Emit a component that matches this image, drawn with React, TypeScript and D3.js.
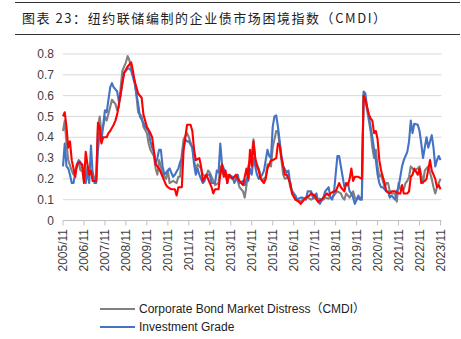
import React from "react";
import * as d3 from "d3";

// Month index counted from 2005/11 (0) to 2023/11 (216)
const tickLabels = ["2005/11","2006/11","2007/11","2008/11","2009/11","2010/11","2011/11","2012/11","2013/11","2014/11","2015/11","2016/11","2017/11","2018/11","2019/11","2020/11","2021/11","2022/11","2023/11"];
const yTicks = [0, 0.1, 0.2, 0.3, 0.4, 0.5, 0.6, 0.7, 0.8];

const cmdiSeries: [number, number][] = [
  [0,0.43],[1,0.48],[2,0.37],[3,0.29],[5,0.24],[6,0.22],[8,0.26],[9,0.28],[10,0.24],[11,0.24],[12,0.19],[14,0.26],[15,0.22],[17,0.23],[18,0.20],[19,0.20],
  [20,0.45],[21,0.50],[22,0.42],[23,0.45],[24,0.50],[25,0.48],[27,0.545],[28,0.58],[30,0.56],[31,0.53],[32,0.545],[33,0.64],[34,0.72],[36,0.76],[37,0.79],[38,0.77],[39,0.73],
  [41,0.67],[42,0.60],[43,0.52],[45,0.50],[46,0.45],[48,0.42],[49,0.37],[50,0.34],[52,0.31],[53,0.25],[54,0.22],[55,0.29],[56,0.26],[57,0.22],[59,0.20],[60,0.24],[61,0.18],
  [63,0.19],[65,0.18],[66,0.21],[67,0.21],[68,0.32],[69,0.39],[71,0.42],[72,0.40],[74,0.35],[75,0.29],[76,0.24],[77,0.27],[79,0.25],[80,0.22],[82,0.21],[83,0.24],[84,0.23],
  [86,0.19],[87,0.17],[89,0.18],[90,0.26],[91,0.23],[93,0.21],[94,0.22],[95,0.21],[97,0.20],[98,0.21],[100,0.19],[101,0.16],[103,0.14],[104,0.11],[105,0.17],[106,0.26],
  [108,0.32],[109,0.39],[110,0.29],[112,0.25],[113,0.22],[114,0.19],[116,0.21],[117,0.27],[119,0.26],[120,0.35],[122,0.43],[123,0.43],[124,0.36],[125,0.29],[126,0.22],
  [127,0.20],[129,0.21],[130,0.16],[132,0.13],[133,0.10],[134,0.10],[136,0.09],[137,0.10],[139,0.11],[140,0.11],[142,0.10],[143,0.105],[145,0.11],[146,0.10],[147,0.105],
  [149,0.10],[150,0.11],[152,0.105],[153,0.11],[154,0.11],[156,0.13],[157,0.14],[159,0.13],[160,0.11],[161,0.10],[162,0.13],[164,0.11],[166,0.14],[167,0.11],[168,0.10],
  [170,0.11],[171,0.11],[172,0.60],[173,0.58],[174,0.53],[175,0.48],[176,0.43],[177,0.35],[178,0.30],[179,0.34],[180,0.26],[181,0.21],[182,0.22],[183,0.19],[184,0.16],
  [185,0.18],[186,0.18],[187,0.14],[188,0.13],[190,0.13],[191,0.09],[192,0.18],[193,0.15],[195,0.15],[196,0.18],[197,0.19],[198,0.21],[199,0.26],[201,0.24],[203,0.25],
  [204,0.26],[205,0.22],[206,0.18],[207,0.24],[209,0.26],[210,0.23],[211,0.20],[212,0.16],[213,0.13],[214,0.16],[215,0.18],[216,0.20]
];

const igSeries: [number, number][] = [
  [0,0.26],[1,0.37],[2,0.26],[3,0.25],[4,0.22],[5,0.18],[6,0.18],[8,0.27],[9,0.29],[10,0.28],[12,0.23],[13,0.18],[14,0.24],[15,0.18],[16,0.36],[17,0.22],[18,0.18],[19,0.18],
  [20,0.34],[21,0.42],[22,0.38],[23,0.46],[24,0.53],[25,0.52],[26,0.58],[27,0.64],[28,0.66],[29,0.64],[30,0.63],[31,0.62],[32,0.57],[33,0.60],[34,0.67],[35,0.71],[37,0.73],
  [38,0.73],[39,0.72],[41,0.66],[42,0.61],[43,0.56],[44,0.50],[46,0.47],[47,0.45],[49,0.43],[50,0.38],[51,0.35],[52,0.33],[53,0.27],[54,0.30],[55,0.34],[56,0.34],[57,0.26],
  [58,0.22],[60,0.24],[61,0.25],[63,0.21],[64,0.22],[66,0.25],[67,0.28],[68,0.30],[69,0.35],[70,0.39],[71,0.38],[72,0.38],[74,0.35],[75,0.27],[76,0.22],[77,0.25],[78,0.22],
  [80,0.18],[81,0.19],[82,0.22],[84,0.22],[85,0.18],[87,0.18],[88,0.24],[89,0.23],[90,0.37],[91,0.27],[93,0.23],[94,0.18],[95,0.22],[97,0.21],[98,0.18],[100,0.22],[101,0.18],
  [103,0.19],[104,0.17],[105,0.20],[106,0.19],[107,0.25],[108,0.22],[109,0.30],[110,0.26],[111,0.22],[112,0.20],[114,0.22],[115,0.24],[116,0.29],[117,0.34],[118,0.31],
  [119,0.30],[120,0.45],[121,0.50],[122,0.505],[123,0.45],[124,0.38],[125,0.31],[126,0.26],[128,0.23],[129,0.24],[130,0.18],[131,0.14],[133,0.12],[134,0.10],[136,0.11],
  [137,0.11],[139,0.10],[140,0.14],[142,0.14],[143,0.11],[145,0.13],[146,0.09],[147,0.08],[149,0.11],[150,0.14],[152,0.16],[153,0.11],[154,0.10],[155,0.13],[157,0.31],
  [158,0.31],[159,0.26],[160,0.21],[161,0.16],[163,0.18],[164,0.14],[165,0.13],[166,0.11],[167,0.08],[169,0.12],[170,0.10],[171,0.10],[172,0.62],[173,0.61],[174,0.545],
  [175,0.50],[176,0.45],[177,0.40],[178,0.34],[179,0.29],[180,0.22],[181,0.18],[182,0.16],[183,0.16],[185,0.14],[186,0.14],[187,0.11],[188,0.12],[190,0.10],[191,0.14],
  [192,0.16],[193,0.21],[194,0.26],[195,0.29],[197,0.33],[198,0.38],[199,0.48],[200,0.42],[201,0.465],[203,0.46],[204,0.43],[205,0.37],[206,0.30],[207,0.35],[208,0.40],
  [209,0.35],[211,0.41],[212,0.35],[213,0.26],[214,0.29],[215,0.31],[216,0.29]
];

const hySeries: [number, number][] = [
  [0,0.50],[1,0.52],[2,0.45],[3,0.35],[4,0.38],[5,0.29],[7,0.21],[8,0.27],[9,0.28],[11,0.27],[12,0.18],[13,0.33],[14,0.27],[15,0.22],[16,0.24],[17,0.19],[19,0.19],
  [20,0.47],[21,0.45],[22,0.37],[23,0.40],[25,0.40],[26,0.42],[27,0.43],[29,0.46],[30,0.48],[31,0.51],[32,0.56],[33,0.61],[34,0.66],[35,0.71],[37,0.74],[38,0.75],[39,0.76],
  [40,0.72],[41,0.67],[43,0.61],[45,0.59],[46,0.51],[48,0.45],[50,0.42],[51,0.40],[53,0.27],[55,0.25],[57,0.21],[59,0.17],[60,0.16],[62,0.15],[64,0.15],[65,0.12],[66,0.16],
  [68,0.16],[69,0.34],[70,0.40],[71,0.46],[73,0.46],[74,0.43],[75,0.34],[76,0.29],[78,0.30],[79,0.26],[80,0.19],[82,0.22],[84,0.18],[85,0.16],[86,0.13],[87,0.15],[89,0.15],
  [90,0.22],[91,0.27],[92,0.21],[93,0.24],[94,0.18],[95,0.22],[97,0.20],[99,0.22],[100,0.20],[102,0.18],[103,0.17],[105,0.25],[106,0.20],[107,0.34],[108,0.26],[109,0.38],
  [110,0.30],[111,0.26],[112,0.24],[113,0.20],[115,0.18],[116,0.20],[117,0.25],[119,0.29],[120,0.29],[122,0.30],[123,0.37],[124,0.36],[125,0.30],[126,0.26],[127,0.22],
  [128,0.22],[130,0.18],[131,0.13],[133,0.10],[135,0.09],[136,0.08],[138,0.10],[139,0.11],[141,0.12],[142,0.13],[144,0.12],[145,0.10],[146,0.09],[148,0.10],[149,0.11],
  [151,0.13],[152,0.12],[153,0.13],[155,0.14],[156,0.14],[158,0.18],[159,0.16],[161,0.14],[162,0.18],[163,0.17],[164,0.20],[165,0.25],[166,0.19],[167,0.21],[169,0.21],
  [171,0.20],[172,0.60],[173,0.58],[174,0.545],[175,0.51],[176,0.49],[177,0.48],[178,0.42],[179,0.43],[180,0.39],[181,0.29],[182,0.24],[183,0.21],[184,0.18],[185,0.14],
  [187,0.13],[188,0.14],[190,0.14],[192,0.13],[193,0.13],[194,0.17],[195,0.13],[197,0.13],[198,0.14],[199,0.21],[200,0.22],[201,0.25],[203,0.22],[204,0.25],[205,0.18],
  [207,0.19],[208,0.20],[210,0.29],[211,0.24],[212,0.22],[213,0.20],[214,0.16],[215,0.17],[216,0.15]
];

// Only the first two legend entries are visible in the reference (the third is cropped away)
const legendNames = ["Corporate Bond Market Distress（CMDI）", "Investment Grade"];
const seriesColors = ["#808080", "#4472C4", "#FF0000"];

export default function App() {
  const W = 461, H = 339;
  const x = d3.scaleLinear().domain([0, 216]).range([63, 440.5]);
  const y = d3.scaleLinear().domain([0, 0.8]).range([220.5, 54]);
  const line = d3.line<[number, number]>().x(d => x(d[0])).y(d => y(d[1]));
  const all = [cmdiSeries, igSeries, hySeries];
  const font = "'Liberation Sans', Arial, 'Noto Sans CJK SC', sans-serif";
  return (
    <svg width={W} height={H} style={{ position: "absolute", left: 0, top: 0 }} fontFamily={font}>
      <rect width={W} height={H} fill="#fff" />
      <line x1={15} x2={460} y1={2.5} y2={2.5} stroke="#333" strokeWidth={1.2} />
      <line x1={15} x2={460} y1={34.5} y2={34.5} stroke="#333" strokeWidth={1.2} />
      <text x={22} y={23} fontSize={13} fill="#222" fontFamily="'Noto Sans CJK SC', sans-serif" textLength={364} lengthAdjust="spacing">图表 23：纽约联储编制的企业债市场困境指数（CMDI）</text>
      {yTicks.map(t => (
        <g key={t}>
          {t > 0 && <line x1={63} x2={441.5} y1={y(t)} y2={y(t)} stroke="#d9d9d9" strokeWidth={1} />}
          <text x={54} y={y(t)} dy="0.35em" textAnchor="end" fontSize={12} fill="#404040">{t === 0 ? "0" : t.toFixed(1)}</text>
        </g>
      ))}
      <line x1={63} x2={441.5} y1={y(0)} y2={y(0)} stroke="#bfbfbf" strokeWidth={1} />
      {tickLabels.map((lab, i) => {
        const tx = x(i * 12);
        return (
          <g key={lab}>
            <line x1={tx} x2={tx} y1={y(0)} y2={y(0) + 5} stroke="#bfbfbf" strokeWidth={1} />
            <text transform={`translate(${tx + 4.2},229) rotate(-90)`} textAnchor="end" fontSize={12} fill="#404040">{lab}</text>
          </g>
        );
      })}
      {all.map((s, i) => (
        <path key={i} d={line(s) || ""} fill="none" stroke={seriesColors[i]} strokeWidth={2.1} strokeLinejoin="round" />
      ))}
      {legendNames.map((n, i) => {
        const ly = 309 + i * 18;
        return (
          <g key={n}>
            <line x1={100} x2={135} y1={ly} y2={ly} stroke={seriesColors[i]} strokeWidth={2} />
            <text x={139} y={ly} dy="0.35em" fontSize={12} fill="#222">{n}</text>
          </g>
        );
      })}
    </svg>
  );
}
